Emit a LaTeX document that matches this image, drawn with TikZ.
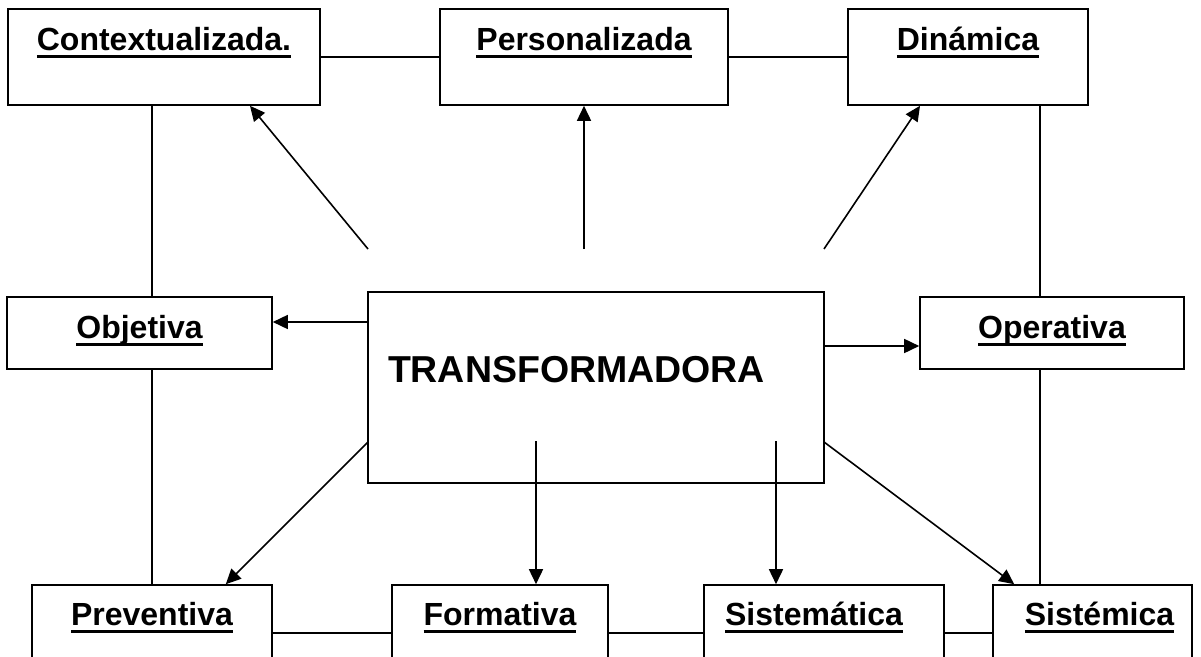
\documentclass[tikz,border=0pt]{standalone}
\usepackage{fontspec}
\setmainfont{Liberation Sans}
\usetikzlibrary{arrows.meta}
\newcommand\ulword[1]{\setbox0=\hbox{#1}\rlap{\rule[-8pt]{\wd0}{3pt}}\box0}

\begin{document}
\begin{tikzpicture}[x=1pt,y=-1pt,line width=1.6pt,>={Triangle[length=15pt,width=14pt]},
box node/.style={draw,rectangle,inner sep=0pt,font=\bfseries\fontsize{32}{38}\selectfont},
top node/.style={box node,text height=41pt,text depth=55pt},
mid node/.style={box node,text height=41pt,text depth=31pt},
low node/.style={box node,text height=40pt,text depth=56pt}]
\clip (0,0) rectangle (1201,656);

\node[top node,minimum width=312pt] (ctx) at (164,57) {\ulword{Contextualizada.}};
\node[top node,minimum width=288pt] (pers) at (584,57) {\ulword{Personalizada}};
\node[top node,minimum width=240pt] (din) at (968,57) {\ulword{Dinámica}};
\node[mid node,minimum width=265pt] (obj) at (139.5,333) {\ulword{Objetiva}};
\node[mid node,minimum width=264pt] (ope) at (1052,333) {\ulword{Operativa}};
\node[box node,font=\bfseries\fontsize{37.5}{44}\selectfont,text width=416pt,align=left,
  inner xsep=20pt,text height=90pt,text depth=101pt] (tr) at (596,387.5) {TRANSFORMADORA};
\node[low node,minimum width=240pt] (pre) at (152,633) {\ulword{Preventiva}};
\node[low node,minimum width=216pt] (for) at (500,633) {\ulword{Formativa}};
\node[low node,minimum width=240pt] (ste) at (824,633) {\ulword{Sistemática}\hspace*{20pt}};
\node[low node,minimum width=199pt] (smi) at (1092.5,633) {\hspace*{14pt}\ulword{Sistémica}};

\coordinate (lx) at (152,0);
\coordinate (rx) at (1040,0);
\coordinate (s1) at (368,249);
\coordinate (s2) at (584,249);
\coordinate (s3) at (824,249);
\coordinate (s4) at (368,322);
\coordinate (s5) at (824,346);
\coordinate (s6) at (368,442);
\coordinate (s7) at (536,441);
\coordinate (s8) at (776,441);
\coordinate (s9) at (824,442);

% frame lines
\draw (ctx.east) -- (pers.west);
\draw (pers.east) -- (din.west);
\draw (lx |- ctx.south) -- (lx |- obj.north);
\draw (lx |- obj.south) -- (lx |- pre.north);
\draw (rx |- din.south) -- (rx |- ope.north);
\draw (rx |- ope.south) -- (rx |- smi.north);
\draw (pre.east) -- (for.west);
\draw (for.east) -- (ste.west);
\draw (ste.east) -- (smi.west);

% arrows
\draw[->] (s1) -- ([xshift=86pt]ctx.south);
\draw[->] (s2) -- (s2 |- pers.south);
\draw[->] (s3) -- ([xshift=-48pt]din.south);
\draw[->] (s4) -- (s4 -| obj.east);
\draw[->] (s5) -- (s5 -| ope.west);
\draw[->] (s6) -- ([xshift=-47pt]pre.north east);
\draw[->] (s7) -- (s7 |- for.north);
\draw[->] (s8) -- (s8 |- ste.north);
\draw[->] (s9) -- ([xshift=22pt]smi.north west);
\end{tikzpicture}
\end{document}
